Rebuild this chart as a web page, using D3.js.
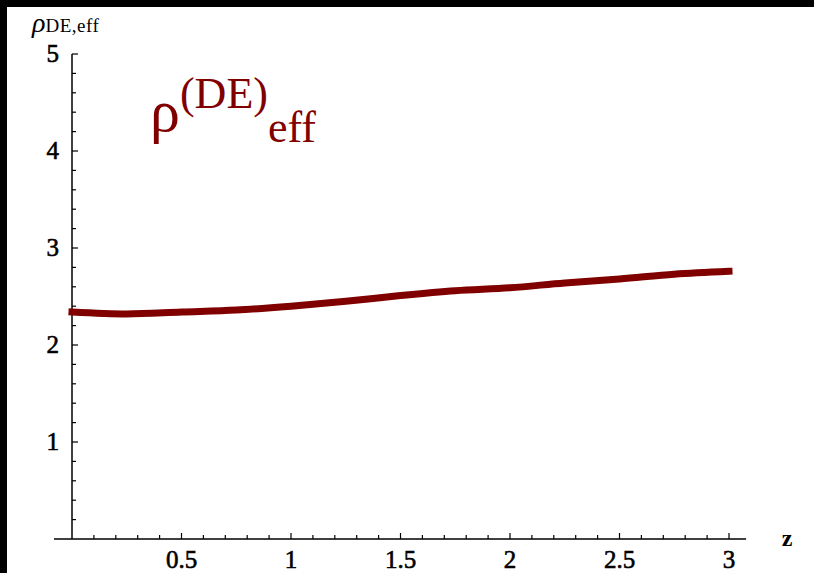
<!DOCTYPE html>
<html>
<head>
<meta charset="utf-8">
<script src="https://cdn.jsdelivr.net/npm/d3@7"></script>
<style>
  html, body { margin: 0; padding: 0; background: #fff; }
  svg { display: block; }
</style>
</head>
<body>
<svg id="chart" width="814" height="573"></svg>
<script>
// ---- data ----
const zValues   = [0, 0.25, 0.5, 0.75, 1.0, 1.25, 1.5, 1.75, 2.0, 2.25, 2.5, 2.75, 3.0];
const rhoValues = [2.34, 2.32, 2.34, 2.36, 2.40, 2.45, 2.51, 2.56, 2.59, 2.64, 2.68, 2.73, 2.76];
const xMajorTicks = [0.5, 1, 1.5, 2, 2.5, 3];
const xMinorTicks = [0.1,0.2,0.3,0.4,0.6,0.7,0.8,0.9,1.1,1.2,1.3,1.4,1.6,1.7,1.8,1.9,2.1,2.2,2.3,2.4,2.6,2.7,2.8,2.9];
const yMajorTicks = [1, 2, 3, 4, 5];
const yMinorTicks = [0.2,0.4,0.6,0.8,1.2,1.4,1.6,1.8,2.2,2.4,2.6,2.8,3.2,3.4,3.6,3.8,4.2,4.4,4.6,4.8];

const svg = d3.select("#chart");
const W = 814, H = 573;
const x = d3.scaleLinear().domain([0, 3]).range([72, 729]);
const y = d3.scaleLinear().domain([0, 5]).range([539, 54]);
const dark = "#800000";
const serif = "'Liberation Serif','Times New Roman',serif";

// black frame top/left
svg.append("rect").attr("x", 0).attr("y", 0).attr("width", W).attr("height", 7).attr("fill", "#000");
svg.append("rect").attr("x", 0).attr("y", 0).attr("width", 7).attr("height", H).attr("fill", "#000");

// x axis
const gx = svg.append("g").attr("transform", `translate(0,${y(0)})`);
gx.append("line").attr("x1", x(-0.082)).attr("x2", x(3.078)).attr("stroke", "#000").attr("stroke-width", 1.5);
gx.selectAll("line.minor").data(xMinorTicks).join("line").attr("class", "minor")
  .attr("x1", d => x(d)).attr("x2", d => x(d)).attr("y1", 0).attr("y2", -4)
  .attr("stroke", "#000").attr("stroke-width", 1.2);
gx.selectAll("line.major").data(xMajorTicks).join("line").attr("class", "major")
  .attr("x1", d => x(d)).attr("x2", d => x(d)).attr("y1", 0).attr("y2", -6)
  .attr("stroke", "#000").attr("stroke-width", 1.2);
gx.selectAll("text").data(xMajorTicks).join("text")
  .attr("x", d => x(d)).attr("y", 29).attr("text-anchor", "middle")
  .attr("font-family", serif).attr("font-size", 25).attr("fill", "#000")
  .attr("stroke", "#000").attr("stroke-width", 0.6)
  .text(d => d3.format("")(d));

// y axis
const gy = svg.append("g").attr("transform", `translate(${x(0)},0)`);
gy.append("line").attr("y1", y(0)).attr("y2", y(5)).attr("stroke", "#000").attr("stroke-width", 1.5);
gy.selectAll("line.minor").data(yMinorTicks).join("line").attr("class", "minor")
  .attr("y1", d => y(d)).attr("y2", d => y(d)).attr("x1", 0).attr("x2", 4)
  .attr("stroke", "#000").attr("stroke-width", 1.2);
gy.selectAll("line.major").data(yMajorTicks).join("line").attr("class", "major")
  .attr("y1", d => y(d)).attr("y2", d => y(d)).attr("x1", 0).attr("x2", 6)
  .attr("stroke", "#000").attr("stroke-width", 1.2);
gy.selectAll("text").data(yMajorTicks).join("text")
  .attr("x", -13).attr("y", d => y(d) + 8).attr("text-anchor", "end")
  .attr("font-family", serif).attr("font-size", 25).attr("fill", "#000")
  .attr("stroke", "#000").attr("stroke-width", 0.6)
  .text(d => d);

// axis labels
svg.append("text").attr("x", 787).attr("y", 546).attr("text-anchor", "middle")
  .attr("font-family", serif).attr("font-size", 24).attr("font-weight", "bold").text("z");
const yl = svg.append("text").attr("x", 32).attr("y", 32).attr("font-family", serif).attr("fill", "#000");
yl.append("tspan").attr("font-size", 28).attr("font-style", "italic").text("ρ");
yl.append("tspan").attr("font-size", 19).attr("letter-spacing", 0.5).text("DE,eff");

// data line
const line = d3.line().x((d, i) => x(zValues[i])).y(d => y(d)).curve(d3.curveMonotoneX);
svg.append("path").datum(rhoValues).attr("d", line)
  .attr("fill", "none").attr("stroke", dark).attr("stroke-width", 7).attr("stroke-linecap", "square");

// annotation
const ann = svg.append("text").attr("x", 150).attr("y", 131).attr("font-family", serif).attr("fill", dark);
ann.append("tspan").attr("font-size", 60).text("ρ");
ann.append("tspan").attr("font-size", 44).attr("dy", -23).text("(DE)");
ann.append("tspan").attr("font-size", 44).attr("dy", 34).text("eff");
</script>
</body>
</html>
